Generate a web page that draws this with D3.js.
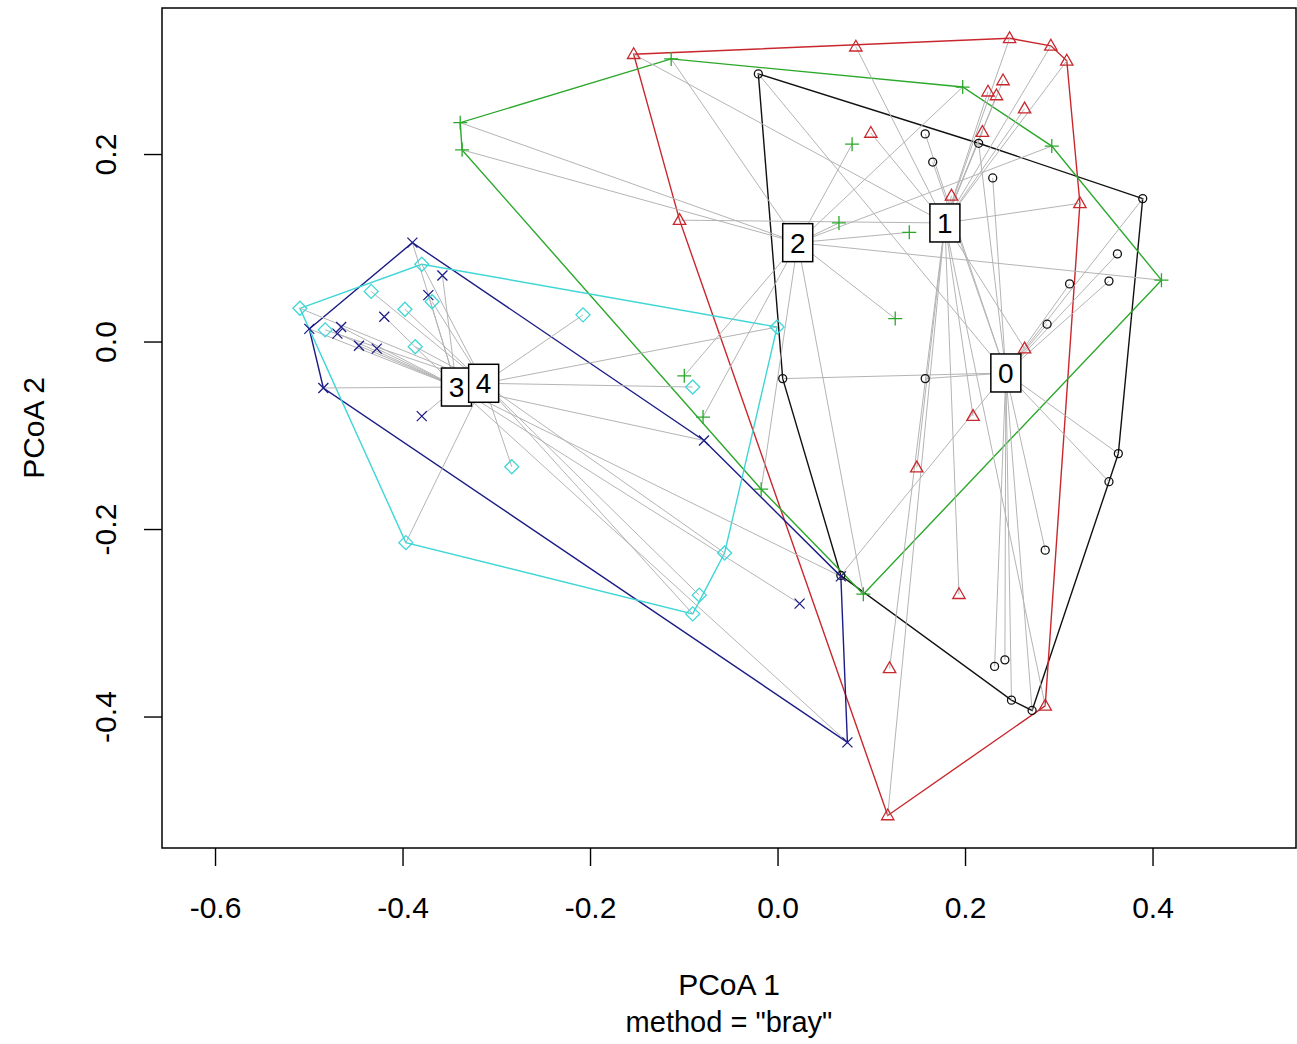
<!DOCTYPE html>
<html><head><meta charset="utf-8">
<script src="https://cdn.jsdelivr.net/npm/d3@7"></script>
<style>
body{margin:0;background:#fff}
svg text{font-family:"Liberation Sans",Arial,Helvetica,sans-serif;fill:#000}
</style>
</head><body>
<svg id="chart" width="1297" height="1044"></svg>
<script>
// ---------- data ----------
const groups = ["0","1","2","3","4"];
const groupColors = ["#111111","#c8282d","#2aa82a","#1c1c86","#3fd6d6"];
const groupShapes = ["circle","triangle","plus","cross","diamond"];

const g0x = [-0.021,0.157,0.165,0.214,0.229,0.389,0.362,0.353,0.311,0.287,0.005,0.157,0.363,0.353,0.285,0.231,0.242,0.249,0.271,0.067];
const g0y = [0.286,0.222,0.192,0.212,0.175,0.153,0.094,0.065,0.062,0.019,-0.039,-0.039,-0.119,-0.149,-0.222,-0.346,-0.339,-0.382,-0.393,-0.249];

const g1x = [-0.154,0.083,0.247,0.291,0.308,0.240,0.224,0.233,0.263,0.218,0.099,0.185,0.322,-0.105,0.263,0.208,0.148,0.193,0.119,0.285,0.117];
const g1y = [0.307,0.315,0.324,0.316,0.300,0.279,0.267,0.263,0.249,0.224,0.223,0.156,0.148,0.130,-0.007,-0.079,-0.134,-0.269,-0.348,-0.388,-0.505];

const g2x = [-0.339,-0.337,-0.114,0.197,0.292,0.079,0.065,0.140,0.409,0.125,-0.100,-0.080,-0.018,0.091];
const g2y = [0.234,0.205,0.302,0.272,0.209,0.211,0.127,0.117,0.066,0.025,-0.036,-0.080,-0.157,-0.269];

const g3x = [-0.390,-0.358,-0.373,-0.420,-0.500,-0.466,-0.470,-0.447,-0.428,-0.485,-0.380,-0.079,0.023,0.067,0.074];
const g3y = [0.106,0.071,0.050,0.027,0.014,0.016,0.009,-0.004,-0.007,-0.049,-0.079,-0.105,-0.279,-0.250,-0.427];

const g4x = [-0.380,-0.510,-0.434,-0.398,-0.369,-0.483,-0.387,-0.208,-0.001,-0.091,-0.284,-0.397,-0.057,-0.084,-0.091];
const g4y = [0.083,0.036,0.054,0.035,0.043,0.013,-0.005,0.029,0.016,-0.048,-0.133,-0.214,-0.225,-0.270,-0.290];

const centroidX = [0.243,0.178,0.021,-0.343,-0.314];
const centroidY = [-0.033,0.127,0.106,-0.048,-0.044];

const xTicks = [-0.6,-0.4,-0.2,0.0,0.2,0.4];
const xTickLabels = ["-0.6","-0.4","-0.2","0.0","0.2","0.4"];
const yTicks = [-0.4,-0.2,0.0,0.2];
const yTickLabels = ["-0.4","-0.2","0.0","0.2"];

const xLabel = "PCoA 1";
const subLabel = 'method = "bray"';
const yLabel = "PCoA 2";

// ---------- layout ----------
const plot = {left:162, right:1296, top:8, bottom:848};
const x = d3.scaleLinear().domain([-0.6571, 0.5525]).range([plot.left, plot.right]);
const y = d3.scaleLinear().domain([-0.5397, 0.3563]).range([plot.bottom, plot.top]);

const svg = d3.select("#chart");
const allX = [g0x,g1x,g2x,g3x,g4x];
const allY = [g0y,g1y,g2y,g3y,g4y];
const pts = [];
groups.forEach((g,i)=>{
  allX[i].forEach((vx,j)=>pts.push({g:i, x:vx, y:allY[i][j]}));
});

svg.append("defs").append("clipPath").attr("id","pc")
  .append("rect").attr("x",plot.left).attr("y",plot.top)
  .attr("width",plot.right-plot.left).attr("height",plot.bottom-plot.top);

const body = svg.append("g").attr("clip-path","url(#pc)");

// hulls
groups.forEach((g,i)=>{
  const P = allX[i].map((vx,j)=>[x(vx), y(allY[i][j])]);
  const h = d3.polygonHull(P);
  body.append("path")
    .attr("d", "M" + h.map(p=>p.join(",")).join("L") + "Z")
    .attr("fill","none").attr("stroke",groupColors[i]).attr("stroke-width",1.4);
});

// spider segments
body.append("g").selectAll("line").data(pts).join("line")
  .attr("x1",d=>x(centroidX[d.g])).attr("y1",d=>y(centroidY[d.g]))
  .attr("x2",d=>x(d.x)).attr("y2",d=>y(d.y))
  .attr("stroke","#b4b4b4").attr("stroke-width",1);

// points
function shapePath(s){
  switch(s){
    case "circle": { const p=d3.path(); p.arc(0,0,4,0,2*Math.PI); return p.toString(); }
    case "triangle": return "M0,-6.5L6.2,4.3L-6.2,4.3Z";
    case "plus": return "M-7,0L7,0M0,-7L0,7";
    case "cross": return "M-5,-5L5,5M-5,5L5,-5";
    case "diamond": return "M0,-7L7,0L0,7L-7,0Z";
  }
}
body.append("g").selectAll("path").data(pts).join("path")
  .attr("transform",d=>`translate(${x(d.x)},${y(d.y)})`)
  .attr("d",d=>shapePath(groupShapes[d.g]))
  .attr("fill","none").attr("stroke",d=>groupColors[d.g]).attr("stroke-width",1.3);

// centroid labels
groups.forEach((g,i)=>{
  const cx = x(centroidX[i]), cy = y(centroidY[i]);
  const lg = body.append("g");
  lg.append("rect").attr("x",cx-15).attr("y",cy-19).attr("width",30).attr("height",38)
    .attr("fill","#fff").attr("stroke","#000").attr("stroke-width",1.5);
  lg.append("text").attr("x",cx).attr("y",cy+10).attr("text-anchor","middle")
    .attr("font-size",28).text(g);
});

// frame
svg.append("rect").attr("x",plot.left).attr("y",plot.top)
  .attr("width",plot.right-plot.left).attr("height",plot.bottom-plot.top)
  .attr("fill","none").attr("stroke","#000").attr("stroke-width",1.5);

// x axis
const xa = svg.append("g");
xTicks.forEach((t,i)=>{
  xa.append("line").attr("x1",x(t)).attr("x2",x(t)).attr("y1",plot.bottom).attr("y2",plot.bottom+18)
    .attr("stroke","#000").attr("stroke-width",1.4);
  xa.append("text").attr("x",x(t)).attr("y",918).attr("text-anchor","middle")
    .attr("font-size",30).text(xTickLabels[i]);
});
// y axis
const ya = svg.append("g");
yTicks.forEach((t,i)=>{
  ya.append("line").attr("x1",plot.left-18).attr("x2",plot.left).attr("y1",y(t)).attr("y2",y(t))
    .attr("stroke","#000").attr("stroke-width",1.4);
  ya.append("text").attr("transform",`translate(116,${y(t)}) rotate(-90)`)
    .attr("text-anchor","middle").attr("font-size",30).text(yTickLabels[i]);
});

svg.append("text").attr("x",(plot.left+plot.right)/2).attr("y",995).attr("text-anchor","middle")
  .attr("font-size",30).text(xLabel);
svg.append("text").attr("x",(plot.left+plot.right)/2).attr("y",1032).attr("text-anchor","middle")
  .attr("font-size",29).text(subLabel);
svg.append("text").attr("transform",`translate(44,${(plot.top+plot.bottom)/2}) rotate(-90)`)
  .attr("text-anchor","middle").attr("font-size",30).text(yLabel);
</script>
</body></html>
